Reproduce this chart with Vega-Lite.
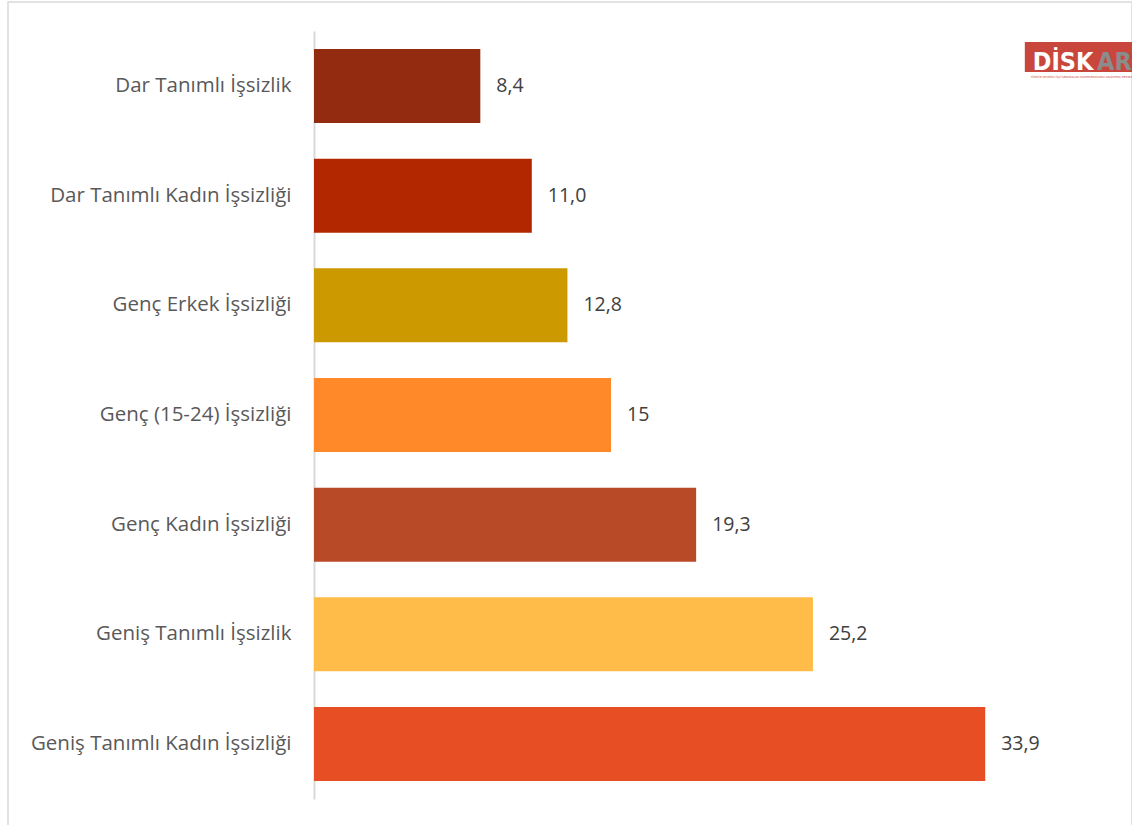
{
  "$schema": "https://vega.github.io/schema/vega-lite/v6.json",
  "autosize": "none",
  "width": 1124,
  "height": 830,
  "padding": {"left": 8, "top": 2, "right": 0, "bottom": 0},
  "background": "white",
  "config": {"view": {"stroke": "#D9D9D9", "strokeWidth": 1.5}, "font": "Open Sans"},
  "data": {
    "values": [
      {"cat": "Dar Tanımlı İşsizlik", "value": 8.4, "label": "8,4"},
      {"cat": "Dar Tanımlı Kadın İşsizliği", "value": 11.0, "label": "11,0"},
      {"cat": "Genç Erkek İşsizliği", "value": 12.8, "label": "12,8"},
      {"cat": "Genç (15-24) İşsizliği", "value": 15, "label": "15"},
      {"cat": "Genç Kadın İşsizliği", "value": 19.3, "label": "19,3"},
      {"cat": "Geniş Tanımlı İşsizlik", "value": 25.2, "label": "25,2"},
      {"cat": "Geniş Tanımlı Kadın İşsizliği", "value": 33.9, "label": "33,9"}
    ]
  },
  "encoding": {
    "y": {
      "field": "cat",
      "type": "nominal",
      "sort": null,
      "scale": {"range": [29, 797], "paddingInner": 0.325, "paddingOuter": 0.164},
      "axis": {
        "title": null,
        "offset": -306,
        "domainColor": "#D9D9D9",
        "domainWidth": 2,
        "ticks": false,
        "labelPadding": 23,
        "labelFontSize": 20.5,
        "labelColor": "#595959",
        "labelFont": "Open Sans",
        "labelLimit": 400
      }
    }
  },
  "layer": [
    {
      "mark": {"type": "bar"},
      "encoding": {
        "x": {"field": "value", "type": "quantitative", "scale": {"domain": [0, 34], "range": [306, 979.2], "nice": false, "zero": false}, "axis": null},
        "color": {
          "field": "cat",
          "type": "nominal",
          "scale": {
            "domain": ["Dar Tanımlı İşsizlik", "Dar Tanımlı Kadın İşsizliği", "Genç Erkek İşsizliği", "Genç (15-24) İşsizliği", "Genç Kadın İşsizliği", "Geniş Tanımlı İşsizlik", "Geniş Tanımlı Kadın İşsizliği"],
            "range": ["#922B10", "#B22600", "#CC9900", "#FF8828", "#B84A28", "#FFBC49", "#E84E24"]
          },
          "legend": null
        }
      }
    },
    {
      "mark": {"type": "text", "align": "left", "baseline": "middle", "dx": 16, "fontSize": 19.5, "fill": "#404040"},
      "encoding": {
        "x": {"field": "value", "type": "quantitative"},
        "text": {"field": "label"}
      }
    },
    {
      "data": {"values": [{"k": "logo"}]},
      "layer": [
        {
          "mark": {"type": "bar", "color": "#C9463D", "height": 30, "yOffset": -29},
          "encoding": {
            "x": {"datum": 35.9, "type": "quantitative"},
            "x2": {"datum": 41.5},
            "y": {"datum": "Dar Tanımlı İşsizlik", "type": "nominal"}
          }
        },
        {
          "mark": {"type": "text", "align": "left", "baseline": "alphabetic", "dy": -16, "fontSize": 25, "fontWeight": "bold", "font": "Liberation Sans Narrow, DejaVu Sans Condensed, sans-serif", "fill": "white"},
          "encoding": {
            "x": {"datum": 36.3, "type": "quantitative"},
            "y": {"datum": "Dar Tanımlı İşsizlik", "type": "nominal"},
            "text": {"value": "DİSK"}
          }
        },
        {
          "mark": {"type": "text", "align": "left", "baseline": "alphabetic", "dy": -16, "fontSize": 25, "fontWeight": "bold", "font": "Liberation Sans Narrow, DejaVu Sans Condensed, sans-serif", "fill": "#8C8C8C"},
          "encoding": {
            "x": {"datum": 39.55, "type": "quantitative"},
            "y": {"datum": "Dar Tanımlı İşsizlik", "type": "nominal"},
            "text": {"value": "AR"}
          }
        },
        {
          "mark": {"type": "text", "align": "left", "baseline": "middle", "dy": -9, "fontSize": 2.9, "font": "DejaVu Sans Condensed, sans-serif", "fill": "#C9463D"},
          "encoding": {
            "x": {"datum": 36.2, "type": "quantitative"},
            "y": {"datum": "Dar Tanımlı İşsizlik", "type": "nominal"},
            "text": {"value": "TÜRKİYE DEVRİMCİ İŞÇİ SENDİKALARI KONFEDERASYONU ARAŞTIRMA MERKEZİ"}
          }
        }
      ]
    }
  ]
}
